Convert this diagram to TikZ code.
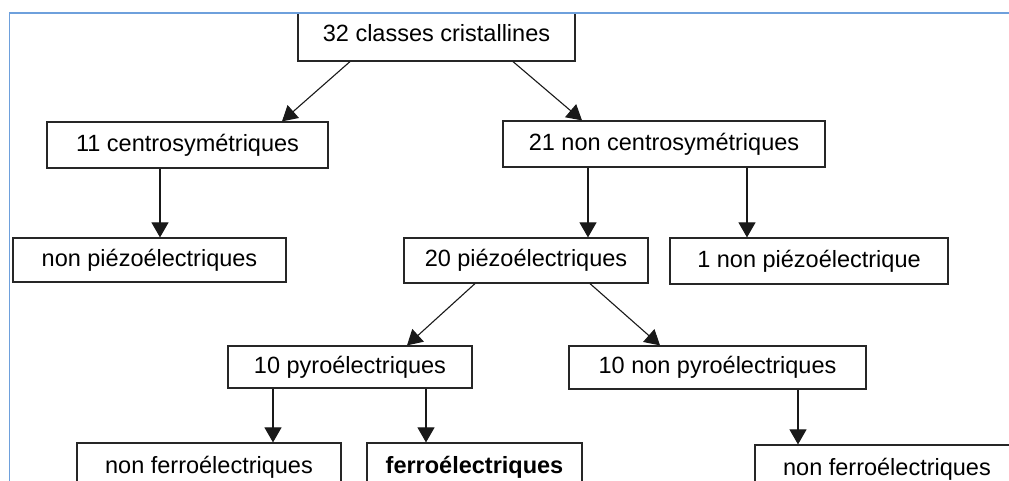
\documentclass[tikz,border=0pt]{standalone}
\usepackage{fontspec}
\setmainfont{Liberation Sans}
\usetikzlibrary{arrows.meta}
\definecolor{framebl}{RGB}{110,160,220}
\tikzset{
  box/.style={draw=black!85,line width=1.2pt,inner sep=0pt,minimum height=46pt,
    font=\fontsize{23.5}{27}\selectfont},
  arr/.style={draw=black!90,line width=1.1pt,-{Triangle[width=17pt,length=15pt]}}
}
\begin{document}
\begin{tikzpicture}[x=1pt,y=-1pt]
    \useasboundingbox (0,0) rectangle (1009,481);
    \begin{scope}
    \clip (9.5,13) rectangle (1009,481);
    % boxes
    \node[box,minimum width=277pt,minimum height=56pt] (classes) at (436.5,33) {32 classes cristallines};
    \node[box,minimum width=281pt] (centro) at (187.5,145) {11 centrosymétriques};
    \node[box,minimum width=322pt] (noncentro) at (664,144) {21 non centrosymétriques};
    \node[box,minimum width=273pt,minimum height=44pt] (nonpiezo) at (149.5,260) {non piézoélectriques};
    \node[box,minimum width=244pt,minimum height=45pt] (piezo) at (526,260.5) {20 piézoélectriques};
    \node[box,minimum width=278pt] (onenonpiezo) at (809,261) {1 non piézoélectrique};
    \node[box,minimum width=244pt,minimum height=42pt] (pyro) at (350,367) {10 pyroélectriques};
    \node[box,minimum width=297pt,minimum height=43pt] (nonpyro) at (717.5,367.5) {10 non pyroélectriques};
    \node[box,minimum width=264pt,minimum height=48pt] (nonferroA) at (209,467) {non ferroélectriques};
    \node[box,minimum width=215pt,minimum height=48pt] (ferro) at (474.5,467) {\bfseries ferroélectriques};
    \node[box,minimum width=264pt,minimum height=48pt] (nonferroB) at (887,469) {non ferroélectriques};
    % arrows
    \draw[arr] ([xshift=-86.5pt]classes.south) -- ([xshift=94.5pt]centro.north);
    \draw[arr] ([xshift=76.5pt]classes.south) -- ([xshift=-82pt]noncentro.north);
    \draw[arr] ([xshift=10.5pt]nonpiezo.north |- centro.south) -- ([xshift=10.5pt]nonpiezo.north);
    \draw[arr] ([xshift=-76pt]noncentro.south) -- ([xshift=-76pt]noncentro.south |- piezo.north);
    \draw[arr] ([xshift=83pt]noncentro.south) -- ([xshift=83pt]noncentro.south |- onenonpiezo.north);
    \draw[arr] ([xshift=-51pt]piezo.south) -- ([xshift=57pt]pyro.north);
    \draw[arr] ([xshift=64pt]piezo.south) -- ([xshift=-57.5pt]nonpyro.north);
    \draw[arr] ([xshift=-77pt]pyro.south) -- ([xshift=-77pt]pyro.south |- nonferroA.north);
    \draw[arr] ([xshift=76pt]pyro.south) -- ([xshift=76pt]pyro.south |- ferro.north);
    \draw[arr] ([xshift=80.5pt]nonpyro.south) -- ([xshift=80.5pt]nonpyro.south |- nonferroB.north);
    \end{scope}
    % frame
    \draw[framebl,line width=1.2pt] (9.5,481) -- (9.5,13) -- (1009,13);
\end{tikzpicture}
\end{document}
